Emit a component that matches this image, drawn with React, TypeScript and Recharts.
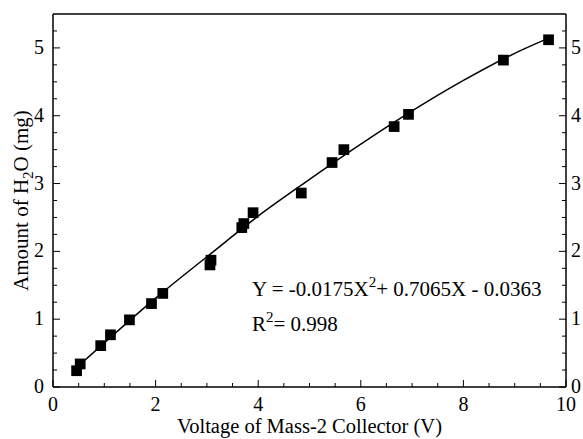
import React from 'react';
import {
  ComposedChart,
  Scatter,
  Line,
  XAxis,
  YAxis,
  ZAxis,
  ReferenceLine,
} from 'recharts';

// measured points (voltage V, water mg)
const voltage = [0.46, 0.53, 0.93, 1.12, 1.49, 1.92, 2.14, 3.06, 3.08, 3.68, 3.72, 3.9, 4.84, 5.44, 5.67, 6.65, 6.93, 8.78, 9.66];
const water = [0.24, 0.34, 0.61, 0.77, 0.99, 1.23, 1.38, 1.8, 1.87, 2.35, 2.41, 2.57, 2.86, 3.31, 3.5, 3.84, 4.02, 4.82, 5.12];

// fitted curve
const fitX = [0.45, 1, 2, 3, 4, 5, 6, 7, 8, 9, 9.65];
const fitY = [0.28, 0.65, 1.31, 1.92, 2.52, 3.06, 3.58, 4.07, 4.52, 4.92, 5.14];

const xTicks = [0, 0.5, 1, 1.5, 2, 2.5, 3, 3.5, 4, 4.5, 5, 5.5, 6, 6.5, 7, 7.5, 8, 8.5, 9, 9.5, 10];
const yTicks = [0, 0.25, 0.5, 0.75, 1, 1.25, 1.5, 1.75, 2, 2.25, 2.5, 2.75, 3, 3.25, 3.5, 3.75, 4, 4.25, 4.5, 4.75, 5, 5.25];

const points = voltage.map((x, i) => ({ x, y: water[i] }));
const fit = fitX.map((x, i) => ({ x, y: fitY[i] }));

const FONT = "'Liberation Serif', 'DejaVu Serif', serif";
const txt = { fontFamily: FONT };

const isMajorX = (v: number) => v % 2 === 0;
const isMajorY = (v: number) => Number.isInteger(v);

const BottomTick = (props: any) => {
  const { x, y, payload } = props;
  const major = isMajorX(payload.value);
  return (
    <g>
      <line x1={x} x2={x} y1={y} y2={y - (major ? 7 : 4)} stroke="#000" strokeWidth={1} />
      {major && (
        <text x={x} y={y + 24} textAnchor="middle" fontSize={20} style={txt} fill="#000">
          {payload.value}
        </text>
      )}
    </g>
  );
};

const LeftTick = (props: any) => {
  const { x, y, payload } = props;
  const major = isMajorY(payload.value);
  return (
    <g>
      <line x1={x} x2={x + (major ? 7 : 4)} y1={y} y2={y} stroke="#000" strokeWidth={1} />
      {major && (
        <text x={x - 9} y={y + 6} textAnchor="end" fontSize={20} style={txt} fill="#000">
          {payload.value}
        </text>
      )}
    </g>
  );
};

const RightTick = (props: any) => {
  const { x, y, payload } = props;
  const major = isMajorY(payload.value);
  return (
    <g>
      <line x1={x} x2={x - (major ? 7 : 4)} y1={y} y2={y} stroke="#000" strokeWidth={1} />
      {major && (
        <text x={x + 5} y={y + 6} textAnchor="start" fontSize={20} style={txt} fill="#000">
          {payload.value}
        </text>
      )}
    </g>
  );
};

const YTitle = (props: any) => {
  const { viewBox } = props;
  const cx = 28;
  const cy = viewBox.y + viewBox.height / 2;
  return (
    <text
      x={cx}
      y={cy}
      transform={`rotate(-90, ${cx}, ${cy})`}
      textAnchor="middle"
      fontSize={21}
      style={txt}
      fill="#000"
    >
      Amount of H
      <tspan fontSize={15} dy={5}>2</tspan>
      <tspan dy={-5}>O (mg)</tspan>
    </text>
  );
};

const XTitle = (props: any) => {
  const { viewBox } = props;
  return (
    <text
      x={viewBox.x + viewBox.width / 2}
      y={433}
      textAnchor="middle"
      fontSize={20.5}
      style={txt}
      fill="#000"
    >
      Voltage of Mass-2 Collector (V)
    </text>
  );
};

export default function App() {
  return (
    <div style={{ position: 'absolute', left: 0, top: 0, background: '#fff' }}>
      <ComposedChart
        width={583}
        height={439}
        margin={{ top: 14, right: 0, left: 0, bottom: 0 }}
        style={txt}
      >
        <XAxis
          type="number"
          dataKey="x"
          domain={[0, 10]}
          ticks={xTicks}
          interval={0}
          height={52}
          tickSize={0}
          tickMargin={0}
          tickLine={false}
          tick={<BottomTick />}
          axisLine={{ stroke: '#000', strokeWidth: 1.5 }}
          label={<XTitle />}
        />
        <YAxis
          yAxisId="left"
          type="number"
          dataKey="y"
          domain={[0, 5.5]}
          ticks={yTicks}
          interval={0}
          width={53}
          tickSize={0}
          tickMargin={0}
          tickLine={false}
          tick={<LeftTick />}
          axisLine={{ stroke: '#000', strokeWidth: 1.5 }}
          label={<YTitle />}
        />
        <YAxis
          yAxisId="right"
          orientation="right"
          type="number"
          dataKey="y"
          domain={[0, 5.5]}
          ticks={yTicks}
          interval={0}
          width={17}
          tickSize={0}
          tickMargin={0}
          tickLine={false}
          tick={<RightTick />}
          axisLine={{ stroke: '#000', strokeWidth: 1.5 }}
        />
        <ZAxis range={[115, 115]} />
        <ReferenceLine yAxisId="left" y={5.5} stroke="#000" strokeWidth={1.5} />
        <Line
          yAxisId="right"
          data={fit}
          dataKey="y"
          type="monotone"
          stroke="#000"
          strokeWidth={1.5}
          dot={false}
          isAnimationActive={false}
        />
        <Scatter
          yAxisId="left"
          data={points}
          dataKey="y"
          shape="square"
          fill="#000"
          isAnimationActive={false}
        />
        <text x={252} y={296} fontSize={21} style={txt} fill="#000">
          Y = -0.0175X
          <tspan fontSize={15} dy={-9}>2</tspan>
          <tspan dy={9}>+ 0.7065X - 0.0363</tspan>
        </text>
        <text x={252} y={331} fontSize={21} style={txt} fill="#000">
          R
          <tspan fontSize={15} dy={-9}>2</tspan>
          <tspan dy={9}>= 0.998</tspan>
        </text>
      </ComposedChart>
    </div>
  );
}
